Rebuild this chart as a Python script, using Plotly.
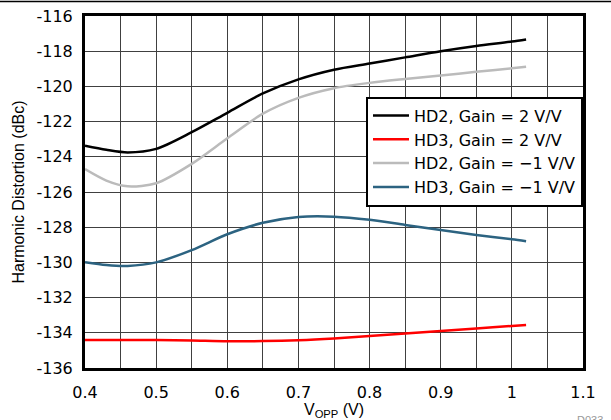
import plotly.graph_objects as go

vopp = [0.40, 0.43, 0.46, 0.50, 0.55, 0.60, 0.65, 0.70, 0.75, 0.80, 0.85, 0.90, 0.95, 1.00, 1.02]
hd2_gain2 = [-123.37, -123.6, -123.75, -123.55, -122.6, -121.5, -120.4, -119.6, -119.05, -118.7, -118.35, -118.0, -117.7, -117.45, -117.33]
hd3_gain2 = [-134.41, -134.41, -134.41, -134.41, -134.44, -134.48, -134.47, -134.42, -134.32, -134.18, -134.04, -133.9, -133.75, -133.61, -133.56]
hd2_gainm1 = [-124.7, -125.35, -125.68, -125.5, -124.4, -122.95, -121.55, -120.65, -120.1, -119.8, -119.58, -119.38, -119.17, -118.97, -118.88]
hd3_gainm1 = [-129.99, -130.15, -130.2, -130.0, -129.3, -128.4, -127.75, -127.42, -127.4, -127.58, -127.87, -128.16, -128.44, -128.69, -128.8]

series_names = ["HD2, Gain = 2 V/V", "HD3, Gain = 2 V/V", "HD2, Gain = \u22121 V/V", "HD3, Gain = \u22121 V/V"]
series_colors = ["#000000", "#FF0000", "#BBBBBB", "#2C6381"]

y_tickvals = [-136, -134, -132, -130, -128, -126, -124, -122, -120, -118, -116]
y_ticktext = ["-136", "-134", "-132", "-130", "-128", "-126", "-124", "-122", "-120", "-118", "-116"]
x_tickvals = [0.4, 0.5, 0.6, 0.7, 0.8, 0.9, 1.0, 1.1]
x_ticktext = ["0.4", "0.5", "0.6", "0.7", "0.8", "0.9", "1", "1.1"]

fig = go.Figure()
for name, ys, col in zip(series_names, [hd2_gain2, hd3_gain2, hd2_gainm1, hd3_gainm1], series_colors):
    fig.add_trace(go.Scatter(x=vopp, y=ys, mode="lines", name=name,
                             line=dict(color=col, width=2.5, shape="spline", smoothing=0.8)))

wide_font = "DejaVu Sans, Verdana, sans-serif"
narrow_font = "Liberation Sans, Arial, sans-serif"
grid_col = "#404040"

fig.update_layout(
    width=611, height=420,
    margin=dict(l=85, r=28, t=16, b=52, autoexpand=False),
    paper_bgcolor="white", plot_bgcolor="white",
    font=dict(family=wide_font, size=16, color="black"),
    showlegend=True,
    legend=dict(x=1, xanchor="right", y=0.771, yanchor="top",
                bgcolor="white", bordercolor="black", borderwidth=2,
                font=dict(size=16, family=wide_font), itemwidth=36, tracegroupgap=0),
    xaxis=dict(range=[0.4, 1.1], tickvals=x_tickvals, ticktext=x_ticktext,
               showgrid=True, gridcolor=grid_col, gridwidth=1,
               minor=dict(dtick=0.05, tick0=0.4, showgrid=True, gridcolor=grid_col, gridwidth=1),
               showline=True, linecolor="black", linewidth=3, mirror=True,
               zeroline=False, ticks="", ticklabelstandoff=8, automargin=False,
               title=dict(text="V<sub>OPP</sub> (V)", font=dict(size=16, family=narrow_font), standoff=0)),
    yaxis=dict(range=[-136, -116], tickvals=y_tickvals, ticktext=y_ticktext,
               showgrid=True, gridcolor=grid_col, gridwidth=1,
               showline=True, linecolor="black", linewidth=3, mirror=True,
               zeroline=False, ticks="", ticklabelstandoff=6, automargin=False,
               title=dict(text="Harmonic Distortion (dBc)", font=dict(size=16, family=narrow_font), standoff=8)),
    shapes=[dict(type="line", xref="paper", yref="paper", x0=-0.171, x1=1.06,
                 y0=1.041, y1=1.041, line=dict(color="black", width=1.5))],
    annotations=[dict(text="D033", xref="paper", yref="paper", x=0.984, y=-0.125,
                      xanchor="left", yanchor="top", showarrow=False,
                      font=dict(size=11, color="#999999", family=narrow_font))],
)

fig.write_html("out.html", config={"displayModeBar": False},
               post_script="document.body.style.margin='0';document.body.style.overflow='hidden';")
